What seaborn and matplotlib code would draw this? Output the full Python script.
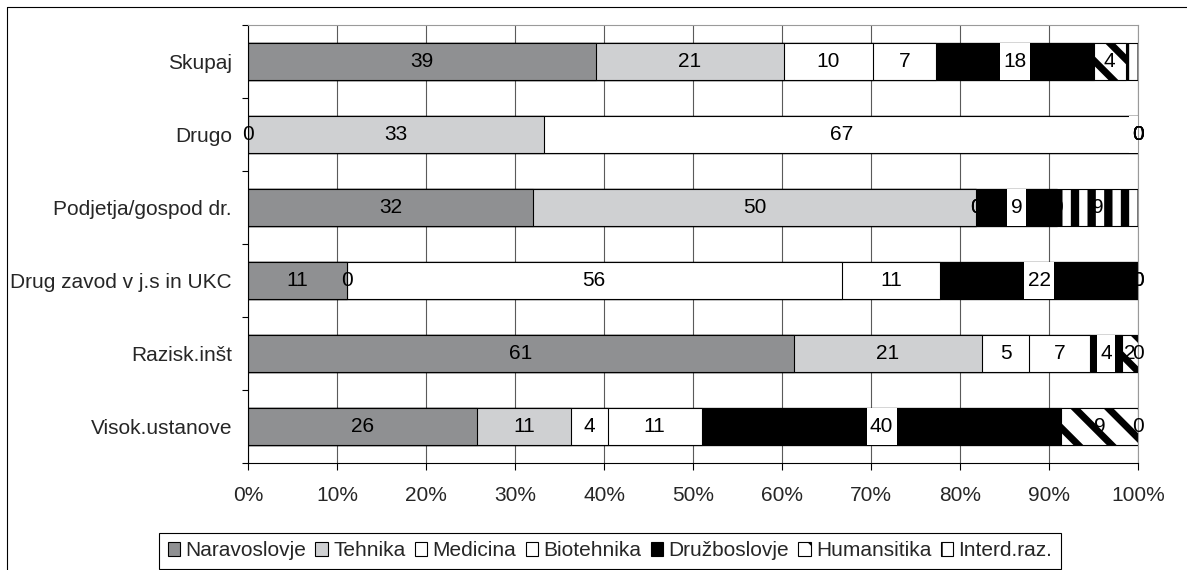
import matplotlib
matplotlib.use("Agg")
import matplotlib.pyplot as plt
from matplotlib.lines import Line2D
from matplotlib.patches import Patch, Rectangle
import pandas as pd
import seaborn as sns

institutions = ["Skupaj", "Drugo", "Podjetja/gospod dr.", "Drug zavod v j.s in UKC",
                "Razisk.inšt", "Visok.ustanove"]
fields = ["Naravoslovje", "Tehnika", "Medicina", "Biotehnika", "Družboslovje",
          "Humansitika", "Interd.raz."]

# shares in % per institution type
naravoslovje = [39.1, 0.0, 32.0, 11.1, 61.3, 25.7]
tehnika = [21.1, 33.3, 49.8, 0.0, 21.2, 10.6]
medicina = [10.0, 66.7, 0.0, 55.6, 5.3, 4.1]
biotehnika = [7.1, 0.0, 0.0, 11.1, 6.8, 10.6]
druzboslovje = [17.7, 0.0, 9.1, 22.2, 3.6, 40.4]
humanistika = [3.6, 0.0, 0.0, 0.0, 1.8, 8.6]
interd = [1.4, 0.0, 9.1, 0.0, 0.0, 0.0]

# label that is not shown in the original
hidden_labels = [("Skupaj", "Interd.raz.")]

df = pd.DataFrame(
    dict(zip(fields, [naravoslovje, tehnika, medicina, biotehnika,
                      druzboslovje, humanistika, interd])),
    index=institutions,
)
cum = df.cumsum(axis=1)

colors = {"Naravoslovje": "#8f9092", "Tehnika": "#cfd0d2", "Medicina": "white",
          "Biotehnika": "white", "Družboslovje": "black",
          "Humansitika": "white", "Interd.raz.": "white"}
hatches = {"Humansitika": "\\", "Interd.raz.": "|"}
hatch_lw = {"Humansitika": 5.0, "Interd.raz.": 6.0}
boxed = {"Družboslovje"}

FS = 15
BAR_W = 0.5

sns.set_style("white")
plt.rcParams["font.family"] = ["Liberation Sans", "DejaVu Sans"]
plt.rcParams["hatch.color"] = "black"

fig = plt.figure(figsize=(11.87, 5.70), dpi=100)
ax = fig.add_axes([248 / 1187, 1 - 463 / 570, 890 / 1187, 438 / 570])

# stacked bars: draw cumulative totals from the last series back to the first
for field in reversed(fields):
    plt.rcParams["hatch.linewidth"] = hatch_lw.get(field, 1.0)
    n_before = len(ax.patches)
    sns.barplot(x=cum[field].values, y=institutions, orient="h",
                color=colors[field], saturation=1, width=BAR_W,
                edgecolor="black", linewidth=0.8,
                hatch=hatches.get(field, None), ax=ax)
    if field in hatch_lw:
        for p in ax.patches[n_before:]:
            if hasattr(p, "set_hatch_linewidth"):
                p.set_hatch_linewidth(hatch_lw[field])

# data labels; Družboslovje labels sit on a white box as tall as the bar
px_per_unit = 890 / 100
digit_px = 0.556 * FS * 100 / 72
for j, inst in enumerate(institutions):
    for field in fields:
        if (inst, field) in hidden_labels:
            continue
        v = df.loc[inst, field]
        xc = cum.loc[inst, field] - v / 2
        label = f"{v:.0f}"
        if field in boxed:
            w = (digit_px * len(label) + 7) / px_per_unit
            ax.add_patch(Rectangle((xc - w / 2, j - BAR_W / 2), w, BAR_W,
                                   facecolor="white", edgecolor="none",
                                   zorder=2.5))
        ax.text(xc, j, label, ha="center", va="center",
                fontsize=FS, color="black", zorder=3)

ax.set_xlim(0, 100)
ax.set_ylim(len(institutions) - 0.5, -0.5)
ax.set_xticks(range(0, 101, 10))
ax.set_xticklabels([f"{t}%" for t in range(0, 101, 10)])
ax.set_yticks(range(len(institutions)))
ax.set_yticklabels(institutions)
ax.set_yticks([k - 0.5 for k in range(len(institutions) + 1)], minor=True)
ax.set_xlabel("")
ax.set_ylabel("")

ax.xaxis.grid(True, color="#5a5a5a", linewidth=0.8)
ax.yaxis.grid(False)
ax.set_axisbelow(True)

ax.tick_params(axis="x", which="major", direction="out", length=5, width=0.8,
               color="black", pad=11.5, labelsize=FS, bottom=True)
ax.tick_params(axis="y", which="major", length=0, pad=11.5, labelsize=FS)
ax.tick_params(axis="y", which="minor", direction="out", length=4.5, width=0.8,
               color="black", left=True)

for side in ["left", "bottom"]:
    ax.spines[side].set_color("black")
    ax.spines[side].set_linewidth(0.8)
for side in ["top", "right"]:
    ax.spines[side].set_visible(True)
    ax.spines[side].set_color("#9a9a9a")
    ax.spines[side].set_linewidth(0.8)

plt.rcParams["hatch.linewidth"] = 1.5
handles = [Patch(facecolor=colors[f], edgecolor="black", linewidth=0.8,
                 hatch=hatches.get(f, None)) for f in fields]
leg = fig.legend(handles, fields, loc="upper center",
                 bbox_to_anchor=(610 / 1187, 1 - 533 / 570), ncol=7,
                 frameon=True, fancybox=False, edgecolor="black", framealpha=1,
                 fontsize=FS, handlelength=0.6, handleheight=0.6,
                 handletextpad=0.25, columnspacing=0.45, borderpad=0.4,
                 borderaxespad=0)
leg.get_frame().set_linewidth(0.8)

# outer chart border (cut at right and bottom in the original)
fig.add_artist(Line2D([7 / 1187, 1], [1 - 7 / 570, 1 - 7 / 570],
                      transform=fig.transFigure, color="black", linewidth=0.8))
fig.add_artist(Line2D([7 / 1187, 7 / 1187], [0, 1 - 7 / 570],
                      transform=fig.transFigure, color="black", linewidth=0.8))

fig.savefig("out.png", dpi=100)
